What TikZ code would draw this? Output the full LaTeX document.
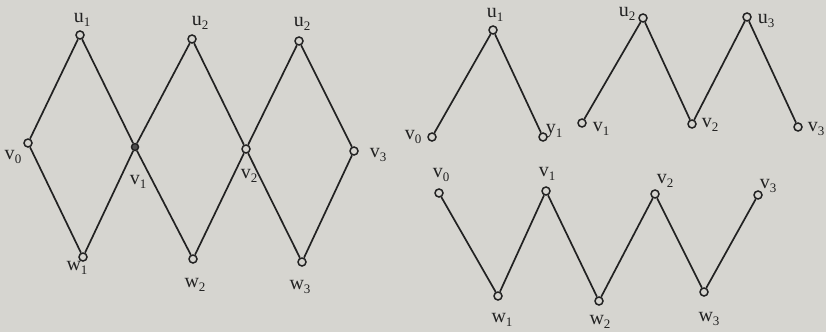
\documentclass[tikz,border=0pt]{standalone}
\usepackage{fontspec}
\setmainfont{Liberation Serif}
\definecolor{paper}{RGB}{214,213,208}
\definecolor{ink}{RGB}{34,34,34}
\newcommand{\mysub}[2]{#1\raisebox{-0.45ex}{\fontsize{13}{13}\selectfont #2}}
\begin{document}
\begin{tikzpicture}[x=1pt,y=-1pt,
  vtx/.style={circle,draw=ink,fill=paper,line width=1.5pt,inner sep=0pt,minimum size=8pt},
  edge/.style={draw=ink,line width=1.7pt},
  lbl/.style={text=ink,font=\fontsize{20}{20}\selectfont,inner sep=0pt,anchor=center}]
\fill[paper] (0,0) rectangle (826,332);
\useasboundingbox (0,0) rectangle (826,332);

% ---------- left figure ----------
\node[vtx] (Lu1) at (80,35) {};
\node[vtx] (Lu2) at (192,39) {};
\node[vtx] (Lu2b) at (299,41) {};
\node[vtx] (Lv0) at (28,143) {};
\node[vtx,fill=ink!80,minimum size=7pt] (Lv1) at (135,147) {};
\node[vtx] (Lv2) at (246,149) {};
\node[vtx] (Lv3) at (354,151) {};
\node[vtx] (Lw1) at (83,257) {};
\node[vtx] (Lw2) at (193,259) {};
\node[vtx] (Lw3) at (302,262) {};
\path[edge] (Lv0) -- (Lu1) (Lu1) -- (Lv1) (Lv1) -- (Lw2)
  (Lv0) -- (Lw1) (Lw1) -- (Lv1) (Lv1) -- (Lu2)
  (Lu2) -- (Lv2) (Lv2) -- (Lw3) (Lw2) -- (Lv2) (Lv2) -- (Lu2b)
  (Lu2b) -- (Lv3) (Lv3) -- (Lw3);
\node[lbl] (tLu1) at (82,20) {\mysub{u}{1}};
\node[lbl] (tLu2) at (200,23) {\mysub{u}{2}};
\node[lbl] (tLu2b) at (302,24) {\mysub{u}{2}};
\node[lbl] (tLv0) at (13,157) {\mysub{v}{0}};
\node[lbl] (tLv1) at (138,182) {\mysub{v}{1}};
\node[lbl] (tLv2) at (249,176) {\mysub{v}{2}};
\node[lbl] (tLv3) at (378,155) {\mysub{v}{3}};
\node[lbl] (tLw1) at (77,268) {\mysub{w}{1}};
\node[lbl] (tLw2) at (195,285) {\mysub{w}{2}};
\node[lbl] (tLw3) at (300,287) {\mysub{w}{3}};

% ---------- top right ----------
\node[vtx] (Tu1) at (493,30) {};
\node[vtx] (Tv0) at (432,137) {};
\node[vtx] (Ty1) at (543,137) {};
\node[vtx] (Tv1) at (582,123) {};
\node[vtx] (Tu2) at (643,18) {};
\node[vtx] (Tv2) at (692,124) {};
\node[vtx] (Tu3) at (747,17) {};
\node[vtx] (Tv3) at (798,127) {};
\path[edge] (Tv0) -- (Tu1) (Tu1) -- (Ty1)
  (Tv1) -- (Tu2) (Tu2) -- (Tv2) (Tv2) -- (Tu3) (Tu3) -- (Tv3);
\node[lbl] (tTu1) at (495,15) {\mysub{u}{1}};
\node[lbl] (tTv0) at (413,137) {\mysub{v}{0}};
\node[lbl] (tTy1) at (554,131) {\mysub{y}{1}};
\node[lbl] (tTv1) at (601,129) {\mysub{v}{1}};
\node[lbl] (tTu2) at (627,14) {\mysub{u}{2}};
\node[lbl] (tTv2) at (710,125) {\mysub{v}{2}};
\node[lbl] (tTu3) at (766,21) {\mysub{u}{3}};
\node[lbl] (tTv3) at (816,129) {\mysub{v}{3}};

% ---------- bottom right ----------
\node[vtx] (Bv0) at (439,193) {};
\node[vtx] (Bv1) at (546,191) {};
\node[vtx] (Bv2) at (655,194) {};
\node[vtx] (Bv3) at (758,195) {};
\node[vtx] (Bw1) at (498,296) {};
\node[vtx] (Bw2) at (599,301) {};
\node[vtx] (Bw3) at (704,292) {};
\path[edge] (Bv0) -- (Bw1) (Bw1) -- (Bv1) (Bv1) -- (Bw2)
  (Bw2) -- (Bv2) (Bv2) -- (Bw3) (Bw3) -- (Bv3);
\node[lbl] (tBv0) at (441,175) {\mysub{v}{0}};
\node[lbl] (tBv1) at (547,174) {\mysub{v}{1}};
\node[lbl] (tBv2) at (665,181) {\mysub{v}{2}};
\node[lbl] (tBv3) at (768,186) {\mysub{v}{3}};
\node[lbl] (tBw1) at (502,320) {\mysub{w}{1}};
\node[lbl] (tBw2) at (600,322) {\mysub{w}{2}};
\node[lbl] (tBw3) at (709,319) {\mysub{w}{3}};
\end{tikzpicture}
\end{document}
